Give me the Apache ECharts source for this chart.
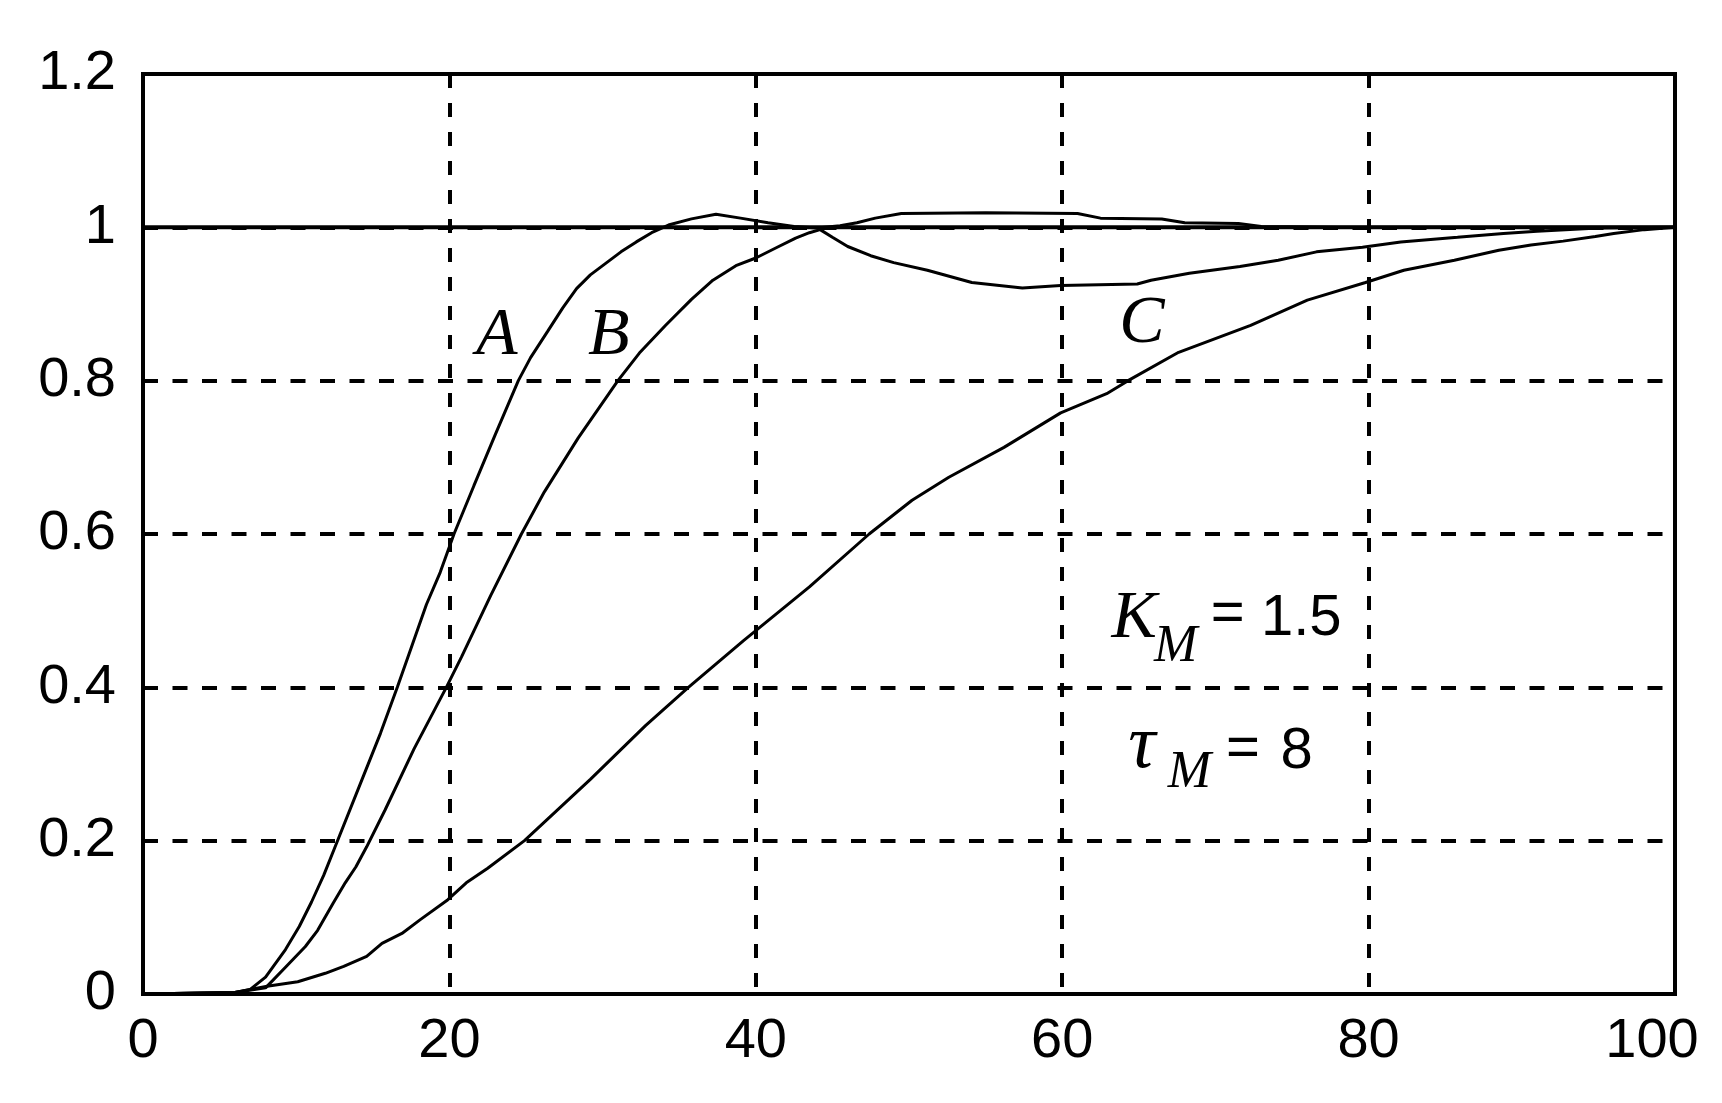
<!DOCTYPE html>
<html>
<head>
<meta charset="utf-8">
<title>step response</title>
<script src="https://cdn.jsdelivr.net/npm/echarts@6/dist/echarts.min.js"></script>
<style>
  html, body { margin: 0; padding: 0; background: #fff; }
  #chart { width: 1722px; height: 1103px; }
</style>
</head>
<body>
<div id="chart"></div>
<script>
// axis ranges / ticks
const xRange = [0, 100, 20]
const yRange = [0, 1.2, 0.2]

// setpoint line y = 1
const setpoint = [[0, 1], [100, 1]]

// curve A (fastest, small overshoot)
const curveA = [
  [0, 0], [6, 0.002], [7, 0.006], [8, 0.022], [9.3, 0.058], [10.2, 0.088],
  [11, 0.12], [11.8, 0.155], [12.6, 0.195], [14.3, 0.28], [15.5, 0.34],
  [16.6, 0.4], [17.6, 0.457], [18.5, 0.508], [19.4, 0.55], [20.3, 0.6],
  [21.6, 0.663], [23, 0.73], [24.5, 0.8], [25.3, 0.83], [26.4, 0.864],
  [27.4, 0.895], [28.3, 0.92], [29.2, 0.938], [30.2, 0.953], [31.2, 0.968],
  [32.2, 0.981], [33.2, 0.993], [34.3, 1.003], [35.8, 1.011], [37.4, 1.017],
  [39, 1.012], [40.8, 1.006], [42.5, 1.001], [44, 0.999], [45.5, 1.002],
  [46.6, 1.006], [47.8, 1.012], [49.5, 1.018], [55, 1.019], [61, 1.018],
  [62.5, 1.012], [66.5, 1.011], [68, 1.006], [71.5, 1.005], [73, 1.001],
  [78, 1.0], [100, 1.0]
]

// curve B (dips below 1 after first peak)
const curveB = [
  [0, 0], [6, 0.002], [8, 0.008], [9.3, 0.035], [10.6, 0.062], [11.4, 0.083],
  [12.4, 0.118], [13.2, 0.145], [13.9, 0.166], [14.6, 0.192], [15.8, 0.24],
  [17.7, 0.32], [19.8, 0.4], [20.8, 0.44], [22.7, 0.52], [24.7, 0.6],
  [26.2, 0.655], [28.4, 0.725], [31, 0.8], [32.4, 0.836], [34.1, 0.872],
  [35.8, 0.906], [37.2, 0.931], [38.7, 0.95], [40, 0.96], [41.3, 0.973],
  [42.6, 0.986], [43.5, 0.993], [44.2, 0.997], [45, 0.987], [46, 0.975],
  [47.5, 0.963], [49, 0.954], [51.2, 0.944], [54.1, 0.928], [57.4, 0.921],
  [59.9, 0.924], [64.9, 0.926], [65.8, 0.931], [68.3, 0.94], [71.6, 0.949],
  [74.1, 0.957], [76.6, 0.968], [79.6, 0.974], [82.1, 0.981], [85.8, 0.987],
  [88.8, 0.992], [91, 0.995], [95, 0.999], [100, 1.0]
]

// curve C (slow, no overshoot)
const curveC = [
  [0, 0], [6, 0.002], [8.1, 0.01], [10.1, 0.016], [11.9, 0.027], [13.1, 0.036],
  [14.6, 0.049], [15.6, 0.066], [16.9, 0.079], [18.1, 0.097], [19.9, 0.123],
  [21.1, 0.145], [22.5, 0.164], [24.9, 0.2], [29.2, 0.28], [32.8, 0.35],
  [35.6, 0.4], [39.2, 0.461], [43.5, 0.531], [47.4, 0.6], [50.2, 0.644],
  [52.6, 0.674], [56.2, 0.713], [59.9, 0.758], [62.9, 0.783], [64.3, 0.8],
  [67.6, 0.837], [72.3, 0.872], [76, 0.905], [79.8, 0.928], [82.3, 0.944],
  [85.6, 0.957], [88.5, 0.97], [90.6, 0.977], [92.7, 0.982], [94.8, 0.988],
  [96, 0.992], [98, 0.997], [100, 1.0]
]

// annotations: [text, x, y, kind]  (x, y = glyph centre in data units)
const notes = [
  ['A', 23.1, 0.858, 'big'],
  ['B', 30.4, 0.858, 'big'],
  ['C', 65.2, 0.874, 'big'],
  ['K', 64.7, 0.489, 'big'],
  ['M', 67.4, 0.452, 'sub'],
  ['=', 70.8, 0.494, 'num'],
  ['1.5', 75.6, 0.489, 'num'],
  ['τ', 65.2, 0.322, 'tau'],
  ['M', 68.3, 0.288, 'sub'],
  ['=', 71.8, 0.318, 'num'],
  ['8', 75.3, 0.316, 'num']
]

const numFont = "'Liberation Sans', Arial, sans-serif"
const serifFont = "'Liberation Serif', 'DejaVu Serif', serif"

const chart = echarts.init(document.getElementById('chart'))

function curve(name, data, width) {
  return {
    name: name,
    type: 'line',
    data: data,
    showSymbol: false,
    smooth: false,
    lineStyle: { color: '#000', width: width },
    z: 3
  }
}

const labelStyle = { color: '#000', fontFamily: numFont, fontSize: 56 }

chart.setOption({
  animation: false,
  backgroundColor: '#fff',
  grid: {
    left: 143, right: 47, top: 74, bottom: 109,
    show: true, borderColor: '#000', borderWidth: 4
  },
  xAxis: {
    type: 'value',
    min: xRange[0], max: xRange[1], interval: xRange[2],
    axisLine: { show: true, lineStyle: { color: '#000', width: 4 } },
    axisTick: { show: false },
    axisLabel: Object.assign({
      margin: 20,
      // last label sits a bit inside the frame in the original
      formatter: function (v) { return v === xRange[1] ? '{end|' + v + '}' : String(v) },
      rich: { end: Object.assign({ padding: [0, 46, 0, 0] }, labelStyle) }
    }, labelStyle),
    splitLine: { show: true, lineStyle: { color: '#000', width: 4, type: [14, 15] } }
  },
  yAxis: {
    type: 'value',
    min: yRange[0], max: yRange[1], interval: yRange[2],
    axisLine: { show: true, lineStyle: { color: '#000', width: 4 } },
    axisTick: { show: false },
    axisLabel: Object.assign({ margin: 27 }, labelStyle),
    splitLine: { show: true, lineStyle: { color: '#000', width: 4, type: [15, 14.5] } }
  },
  series: [
    curve('setpoint', setpoint, 4),
    curve('A', curveA, 3),
    curve('B', curveB, 3),
    curve('C', curveC, 3)
  ]
})

// place the text annotations from data coords
const fonts = {
  big: 'italic 68px ' + serifFont,
  tau: 'italic 76px ' + serifFont,
  sub: 'italic 52px ' + serifFont,
  num: '58px ' + numFont
}
chart.setOption({
  graphic: notes.map(function (n) {
    const p = chart.convertToPixel({ gridIndex: 0 }, [n[1], n[2]])
    return {
      type: 'text',
      x: p[0], y: p[1],
      z: 10,
      style: {
        text: n[0],
        font: fonts[n[3]],
        fill: '#000',
        align: 'center',
        verticalAlign: 'middle'
      }
    }
  })
})
</script>
</body>
</html>
